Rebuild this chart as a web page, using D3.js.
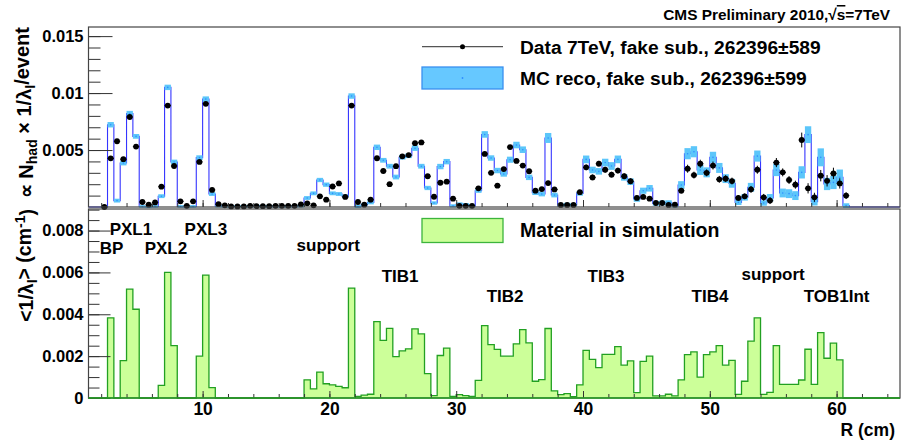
<!DOCTYPE html>
<html><head><meta charset="utf-8">
<script src="https://cdn.jsdelivr.net/npm/d3@7/dist/d3.min.js"></script>
<style>
html,body{margin:0;padding:0;background:#fff;}
svg{display:block;font-family:"Liberation Sans",Arial,Helvetica,sans-serif;font-weight:bold;}
</style></head><body>
<svg id="c" width="901" height="441"></svg>
<script>
// ---- data (values in units of 1e-3) ----
const binStart = 2.0, binWidth = 0.5, unit = 1e-3;
const mcValues = [
 0,7.22,0.56,3.86,8.2,6.2,0.05,0.02,0.05,0.95,
 10.5,3.95,0.05,0.02,0.05,4.33,9.47,1.14,0.08,0.05,
 0.05,0.05,0.05,0.05,0.08,0.05,0.05,0.05,0.05,0.05,
 0.05,0.08,0.79,1.2,2.37,1.96,1.2,1.14,0.94,9.74,
 0.05,0.2,0.4,5.24,4.1,3.58,2.63,4.37,4.5,5.16,
 3.58,1.67,0.35,3.55,3.98,0.1,0.26,0.2,0.1,1.43,
 6.37,4.3,3.2,2.9,4.15,5.44,5.03,2.6,1.26,1.14,
 6.06,1.05,0.15,0.2,0.18,1.2,4.18,3.25,3.13,3.9,
 3.6,4.18,2.6,2.22,0.7,1.43,1.64,0.32,0.35,0.38,
 0.12,1.93,4.68,4.85,3.25,3.04,4.36,3.43,2.49,2.08,
 0.41,0.85,1.73,4.47,0.35,0.8,3.25,1.23,1.17,1.0,
 3.04,6.35,0.47,4.36,2.02,2.16,2.6,0.12];
const mcErrors = [
 0.03,0.15,0.08,0.12,0.15,0.12,0.03,0.03,0.03,0.08,
 0.15,0.12,0.03,0.03,0.03,0.12,0.15,0.08,0.03,0.03,
 0.03,0.03,0.03,0.03,0.03,0.03,0.03,0.03,0.03,0.03,
 0.03,0.03,0.08,0.08,0.1,0.1,0.08,0.08,0.08,0.15,
 0.05,0.06,0.08,0.15,0.12,0.12,0.12,0.12,0.12,0.15,
 0.12,0.1,0.06,0.15,0.15,0.05,0.06,0.06,0.05,0.1,
 0.2,0.15,0.15,0.15,0.18,0.2,0.2,0.15,0.12,0.12,
 0.35,0.12,0.06,0.08,0.08,0.12,0.25,0.2,0.2,0.25,
 0.25,0.25,0.2,0.2,0.15,0.18,0.2,0.12,0.12,0.12,
 0.08,0.25,0.4,0.4,0.35,0.35,0.4,0.35,0.3,0.3,
 0.15,0.2,0.3,0.4,0.15,0.25,0.45,0.3,0.3,0.3,
 0.45,0.65,0.25,0.7,0.45,0.5,0.6,0.12];
const dataValues = [
 0,4.27,5.77,4.2,7.9,5.3,0.44,0.2,0.4,1.78,
 8.9,3.6,0.5,0.1,0.5,3.96,9.06,1.5,0.25,0.15,
 0.05,0.05,0.05,0.1,0.07,0.07,0.07,0.1,0.1,0.1,
 0.1,0.23,0.32,0.15,0.94,0.64,1.8,2.07,0.88,8.9,
 0.44,0.2,0.64,4.28,3.16,2.0,3.58,4.45,4.56,5.6,
 5.67,2.7,0.9,2.13,2.22,0.73,0.1,0.1,0.1,1.64,
 4.66,3.0,1.87,3.33,5.26,4.04,3.64,3.14,1.43,1.57,
 2.1,1.54,0.18,0.18,0.18,1.3,3.48,2.6,3.8,3.27,
 2.84,3.2,2.7,2.26,0.8,0.88,0.73,0.35,0.35,0.18,
 0.2,1.43,3.36,2.8,3.8,3.0,3.64,2.43,2.49,2.28,
 0.8,0.94,1.55,3.27,0.85,0.56,3.9,3.04,2.37,1.96,
 5.88,1.64,0.85,2.75,2.3,2.95,2.07,1.0];
const dataErrors = [
 0.1,0.1,0.1,0.1,0.1,0.1,0.1,0.1,0.1,0.1,
 0.1,0.1,0.1,0.1,0.1,0.1,0.1,0.1,0.1,0.1,
 0.05,0.05,0.05,0.05,0.05,0.05,0.05,0.05,0.05,0.05,
 0.05,0.05,0.05,0.05,0.1,0.1,0.1,0.1,0.1,0.15,
 0.1,0.1,0.1,0.12,0.12,0.12,0.12,0.12,0.12,0.12,
 0.12,0.12,0.1,0.12,0.12,0.1,0.08,0.08,0.08,0.12,
 0.15,0.15,0.15,0.15,0.15,0.15,0.15,0.15,0.12,0.12,
 0.2,0.15,0.08,0.08,0.08,0.15,0.25,0.25,0.25,0.25,
 0.25,0.25,0.25,0.25,0.2,0.2,0.2,0.15,0.15,0.12,
 0.12,0.25,0.35,0.3,0.35,0.3,0.35,0.3,0.3,0.3,
 0.25,0.25,0.3,0.35,0.3,0.3,0.4,0.35,0.35,0.35,
 0.65,0.45,0.4,0.5,0.5,0.5,0.45,0.3];
const materialValues = [
 0,3.83,0,1.79,5.2,4.24,0,0,0,0.6,
 6.0,2.5,0,0,0,2.0,5.87,0.5,0,0,
 0,0,0,0,0,0,0,0,0,0,
 0,0,0.87,0.44,1.24,0.68,0.63,0.56,0.49,5.25,
 0.08,0.14,0.18,3.65,2.75,3.33,1.98,2.25,2.35,3.3,
 3.06,1.16,0.11,2.03,2.38,0.08,0.16,0.11,0.08,0.84,
 3.46,2.55,2.32,2.0,2.0,2.59,3.27,2.63,0.8,0.88,
 3.32,0.34,0.16,0.21,0.07,0.63,2.28,1.85,1.45,2.08,
 2.08,2.45,1.57,1.77,0.26,1.75,2.0,0.1,0.1,0.18,
 0.1,0.87,2.07,2.2,1.0,2.07,2.2,2.5,1.57,1.8,
 0.17,0.8,2.72,3.83,0.17,0.27,2.5,0.65,0.65,0.65,
 0.86,2.33,0.65,3.12,1.9,2.62,1.82,0];

const regionLabels = ["BP","PXL1","PXL2","PXL3","support","TIB1","TIB2","TIB3","TIB4","support","TOB1Int"];
const regionLabelR = [1.88,2.67,5.43,8.58,17.41,24.12,32.4,40.36,48.56,52.5,57.4];
const regionLabelV = [7.18,8.09,7.18,8.09,7.29,5.84,4.89,5.84,4.89,5.93,4.89];

const xMajorTicks = [10,20,30,40,50,60];
const xMinorTicks = d3.range(2, 65, 2);
const topYMajor = [0.005,0.01,0.015];
const topYMajorLabels = ["0.005","0.01","0.015"];
const topYMinor = d3.range(1,16).map(i=>i*0.001);
const botYMajor = [0,0.002,0.004,0.006,0.008];
const botYMajorLabels = ["0","0.002","0.004","0.006","0.008"];
const botYMinor = d3.range(1,19).map(i=>i*0.0005);

// ---- layout ----
const svg = d3.select("#c");
const L = 88.5, Rr = 900;
const x = d3.scaleLinear().domain([1,65]).range([L,Rr]);
const yT = d3.scaleLinear().domain([0,0.0158]).range([207,27]);
const yB = d3.scaleLinear().domain([0,0.00903]).range([398,209]);
const font = '"Liberation Sans",Arial,Helvetica,sans-serif';

const bins = mcValues.map((v,i)=>({lo:binStart+i*binWidth, hi:binStart+(i+1)*binWidth, mc:v*unit, mcErr:mcErrors[i]*unit,
  d:dataValues[i]*unit, dErr:dataErrors[i]*unit, mat:materialValues[i]*unit}));
const xMin = x.domain()[0], xMax = x.domain()[1];

// ---- bottom panel: material ----
const matPts = [{r:xMin,v:0}].concat(bins.map(b=>({r:b.lo,v:b.mat}))).concat([{r:bins[bins.length-1].hi,v:0},{r:xMax,v:0}]);
svg.append("path").datum(matPts)
  .attr("d", d3.area().curve(d3.curveStepAfter).x(p=>x(p.r)).y0(yB(0)).y1(p=>yB(p.v)))
  .attr("fill","#ccff99").attr("stroke","none");
svg.append("path").datum(matPts)
  .attr("d", d3.line().curve(d3.curveStepAfter).x(p=>x(p.r)).y(p=>yB(p.v)))
  .attr("fill","none").attr("stroke","#22a022").attr("stroke-width",1.3);

// ---- top panel: MC ----
const mcPts = [{r:xMin,v:0}].concat(bins.map(b=>({r:b.lo,v:b.mc}))).concat([{r:bins[bins.length-1].hi,v:0},{r:xMax,v:0}]);
svg.append("path").datum(mcPts)
  .attr("d", d3.line().curve(d3.curveStepAfter).x(p=>x(p.r)).y(p=>yT(p.v)))
  .attr("fill","none").attr("stroke","#3535ff").attr("stroke-width",1.1);
svg.append("g").selectAll("rect").data(bins).join("rect")
  .attr("x",b=>x(b.lo)).attr("width",b=>x(b.hi)-x(b.lo))
  .attr("y",b=>yT(b.mc+b.mcErr)-1).attr("height",b=>yT(b.mc-b.mcErr)-yT(b.mc+b.mcErr)+2)
  .attr("fill","#5cc6fa");
svg.append("g").selectAll("circle").data(bins).join("circle")
  .attr("cx",b=>x((b.lo+b.hi)/2)).attr("cy",b=>yT(b.mc)).attr("r",0.8).attr("fill","#2f8fff");

// ---- data points ----
const dg = svg.append("g");
dg.selectAll("line.h").data(bins).join("line").attr("class","h")
  .attr("x1",b=>x(b.lo)).attr("x2",b=>x(b.hi)).attr("y1",b=>yT(b.d)).attr("y2",b=>yT(b.d))
  .attr("stroke","#000").attr("stroke-width",1);
dg.selectAll("line.v").data(bins).join("line").attr("class","v")
  .attr("x1",b=>x((b.lo+b.hi)/2)).attr("x2",b=>x((b.lo+b.hi)/2))
  .attr("y1",b=>yT(b.d+b.dErr)).attr("y2",b=>yT(Math.max(0,b.d-b.dErr)))
  .attr("stroke","#000").attr("stroke-width",1);
dg.selectAll("circle").data(bins).join("circle")
  .attr("cx",b=>x((b.lo+b.hi)/2)).attr("cy",b=>yT(b.d)).attr("r",2.9).attr("fill","#000");

// ---- axes ----
function styleAxis(g){ g.select(".domain").remove(); g.selectAll("line").attr("stroke","#333"); g.selectAll("text").attr("fill","#000").style("font-family",font).style("font-weight","bold"); }
svg.append("g").attr("transform",`translate(${L},0)`)
  .call(d3.axisLeft(yT).tickValues(topYMinor).tickSize(-12).tickFormat("")).call(styleAxis);
svg.append("g").attr("transform",`translate(${L},0)`)
  .call(d3.axisLeft(yT).tickValues(topYMajor).tickSize(-24).tickPadding(5).tickFormat((d,i)=>topYMajorLabels[i]))
  .call(styleAxis).selectAll("text").style("font-size","16.5px");
svg.append("g").attr("transform",`translate(${L},0)`)
  .call(d3.axisLeft(yB).tickValues(botYMinor).tickSize(-11).tickFormat("")).call(styleAxis);
svg.append("g").attr("transform",`translate(${L},0)`)
  .call(d3.axisLeft(yB).tickValues(botYMajor).tickSize(-22).tickPadding(5).tickFormat((d,i)=>botYMajorLabels[i]))
  .call(styleAxis).selectAll("text").style("font-size","16.5px");
[207,398].forEach((yy,k)=>{
  svg.append("g").attr("transform",`translate(0,${yy})`)
    .call(d3.axisBottom(x).tickValues(xMinorTicks).tickSize(-4).tickFormat("")).call(styleAxis);
  const g = svg.append("g").attr("transform",`translate(0,${yy})`)
    .call(d3.axisBottom(x).tickValues(xMajorTicks).tickSize(-7).tickPadding(5).tickFormat(k===1?(d=>d):""))
    .call(styleAxis);
  g.selectAll("text").style("font-size","17.5px");
});

// ---- frames ----
svg.append("rect").attr("x",L).attr("y",27).attr("width",Rr-L).attr("height",207-27)
  .attr("fill","none").attr("stroke","#444").attr("stroke-width",1.2);
svg.append("rect").attr("x",L).attr("y",209).attr("width",Rr-L).attr("height",398-209)
  .attr("fill","none").attr("stroke","#444").attr("stroke-width",1.2);
svg.append("line").attr("x1",L).attr("x2",Rr).attr("y1",yB(0)).attr("y2",yB(0)).attr("stroke","#22a022").attr("stroke-width",1.3);

// ---- region labels ----
svg.append("g").selectAll("text").data(regionLabels).join("text")
  .attr("x",(d,i)=>x(regionLabelR[i])).attr("y",(d,i)=>yB(regionLabelV[i]*unit))
  .attr("dy","0.35em").style("font-size","17px").text(d=>d);

// ---- legends ----
const lg = svg.append("g");
lg.append("line").attr("x1",422).attr("x2",503).attr("y1",46.7).attr("y2",46.7).attr("stroke","#555").attr("stroke-width",1.3);
lg.append("circle").attr("cx",462.5).attr("cy",46.7).attr("r",2.5).attr("fill","#000");
lg.append("text").attr("x",520).attr("y",47).attr("dy","0.35em").style("font-size","19.2px").text("Data 7TeV, fake sub., 262396\u00b1589");
lg.append("rect").attr("x",422).attr("y",67).attr("width",81).attr("height",22).attr("fill","#66c8ff").attr("stroke","#3a90f0").attr("stroke-width",1.3);
lg.append("circle").attr("cx",462.5).attr("cy",78).attr("r",0.9).attr("fill","#2f8fff");
lg.append("text").attr("x",520).attr("y",78).attr("dy","0.35em").style("font-size","19.2px").text("MC reco, fake sub., 262396\u00b1599");
lg.append("rect").attr("x",422).attr("y",218.5).attr("width",81).attr("height",24).attr("fill","#ccff99").attr("stroke","#3cb43c").attr("stroke-width",1.3);
lg.append("text").attr("x",520).attr("y",230.5).attr("dy","0.35em").style("font-size","19.5px").text("Material in simulation");

// ---- header ----
const hd = svg.append("text").attr("x",890).attr("y",20).attr("text-anchor","end").style("font-size","15.4px");
hd.append("tspan").text("CMS Preliminary 2010,\u221a");
hd.append("tspan").style("text-decoration","overline").text("s");
hd.append("tspan").text("=7TeV");

// ---- axis titles ----
const t1 = svg.append("text").attr("transform","translate(33,27) rotate(-90)").attr("text-anchor","end").style("font-size","20px");
t1.append("tspan").text("\u221d N");
t1.append("tspan").attr("dy","0.3em").style("font-size","14px").text("had");
t1.append("tspan").attr("dy","-0.3em").text(" \u00d7 1/\u03bb");
t1.append("tspan").attr("dy","0.3em").style("font-size","14px").text("I");
t1.append("tspan").attr("dy","-0.3em").text("/event");
const t2 = svg.append("text").attr("transform","translate(33,209) rotate(-90)").attr("text-anchor","end").style("font-size","19.5px");
t2.append("tspan").text("<1/\u03bb");
t2.append("tspan").attr("dy","0.3em").style("font-size","14px").text("I");
t2.append("tspan").attr("dy","-0.3em").text("> (cm");
t2.append("tspan").attr("dy","-0.45em").style("font-size","14px").text("-1");
t2.append("tspan").attr("dy","0.45em").text(")");
svg.append("text").attr("x",895).attr("y",436).attr("text-anchor","end").style("font-size","17.5px").text("R (cm)");
</script>
</body></html>
